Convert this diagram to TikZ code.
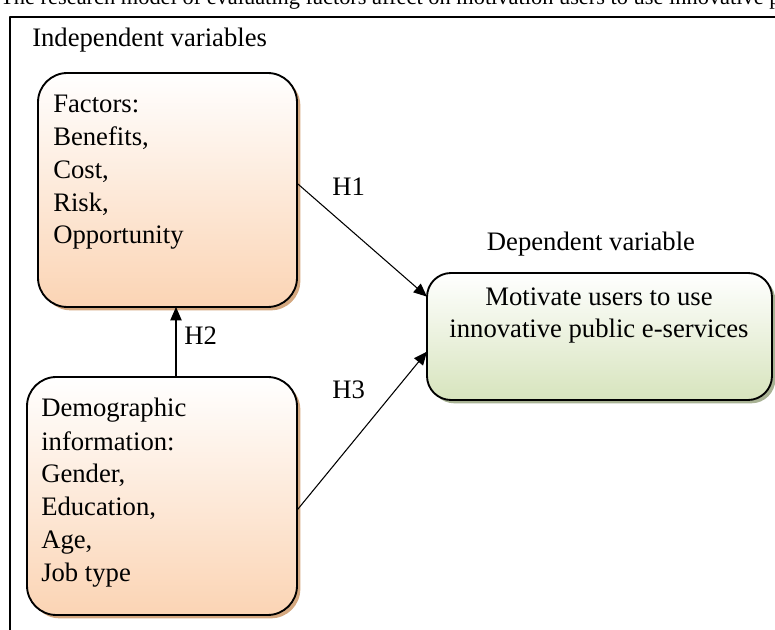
\documentclass[tikz,border=0pt]{standalone}
\usepackage{fontspec}
\setmainfont{Liberation Serif}
\usepackage{xcolor}
\usetikzlibrary{arrows.meta,calc,positioning,shadows}
\definecolor{peach}{RGB}{251,212,180}
\definecolor{peachsh}{RGB}{212,168,128}
\definecolor{sage}{RGB}{215,228,189}
\definecolor{sagesh}{RGB}{168,178,148}
\tikzset{
  ivbox/.style={draw, line width=1.4pt, rounded corners=22pt, inner sep=0pt, outer sep=0pt,
    top color=white, bottom color=peach,
    drop shadow={shadow xshift=2.5pt, shadow yshift=-2.5pt, fill=peachsh, opacity=1}},
  dvbox/.style={draw, line width=1.4pt, rounded corners=18pt, inner sep=0pt, outer sep=0pt,
    top color=white, bottom color=sage,
    drop shadow={shadow xshift=2.5pt, shadow yshift=-2.5pt, fill=sagesh, opacity=1}},
  txt/.style={font=\fontsize{20}{24.6}\selectfont, align=left, inner sep=0pt},
  hlbl/.style={font=\fontsize{20}{24}\selectfont, inner sep=0pt},
  arr/.style={-{Triangle[length=10pt,width=8.5pt]}, line width=0.8pt},
  every picture/.style={line cap=round, line join=round}
}

\begin{document}
\begin{tikzpicture}[x=0.75pt,y=-0.75pt]
  \useasboundingbox (0,0) rectangle (775,630);
  % caption and frame
  \node[anchor=base west, inner sep=0pt, font=\fontsize{16.8}{20}\selectfont] (cap) at (0,5)
    {The research model of evaluating factors affect on motivation users to use innovative public e-services};
  \draw[line width=1.5pt, line cap=butt] (10,640) -- (10,17) -- (790,17);

  % Independent variables (multi-line texts sit on their last baseline)
  \node[hlbl, anchor=base west] (ivtitle) at (32,47) {Independent variables};
  \node[ivbox, minimum width=194.25pt, minimum height=175.5pt] (fac) at (167.5,190) {};
  \node[txt, anchor=base west] (factxt) at (53,244)
    {Factors:\\Benefits,\\Cost,\\Risk,\\Opportunity};
  \node[ivbox, minimum width=202.5pt, minimum height=178.5pt] (demo) at (162,496) {};
  \node[txt, font=\fontsize{20}{24.75}\selectfont, anchor=base west] (demotxt) at (41,582)
    {Demographic\\information:\\Gender,\\Education,\\Age,\\Job type};

  % Dependent variable
  \node[hlbl, anchor=base] (dvtitle) at (591,251) {Dependent variable};
  \node[dvbox, minimum width=258.75pt, minimum height=95.25pt] (mot) at (599.5,336.5) {};
  \node[txt, align=center, anchor=base] (mottxt) at (599,338)
    {Motivate users to use\\innovative public e-services};

  % hypotheses
  \draw[arr] (fac.3) -- (mot.167);
  \draw[arr] (demo.-6) -- (mot.185);
  \coordinate (h2s) at ([xshift=10.5pt]demo.north);
  \draw[arr] (h2s) -- (h2s |- fac.south);
  \node[hlbl, anchor=base west] (h1) at (332,196) {H1};
  \node[hlbl, anchor=base west] (h2) at (184,345) {H2};
  \node[hlbl, anchor=base west] (h3) at (332,399) {H3};
\end{tikzpicture}
\end{document}
